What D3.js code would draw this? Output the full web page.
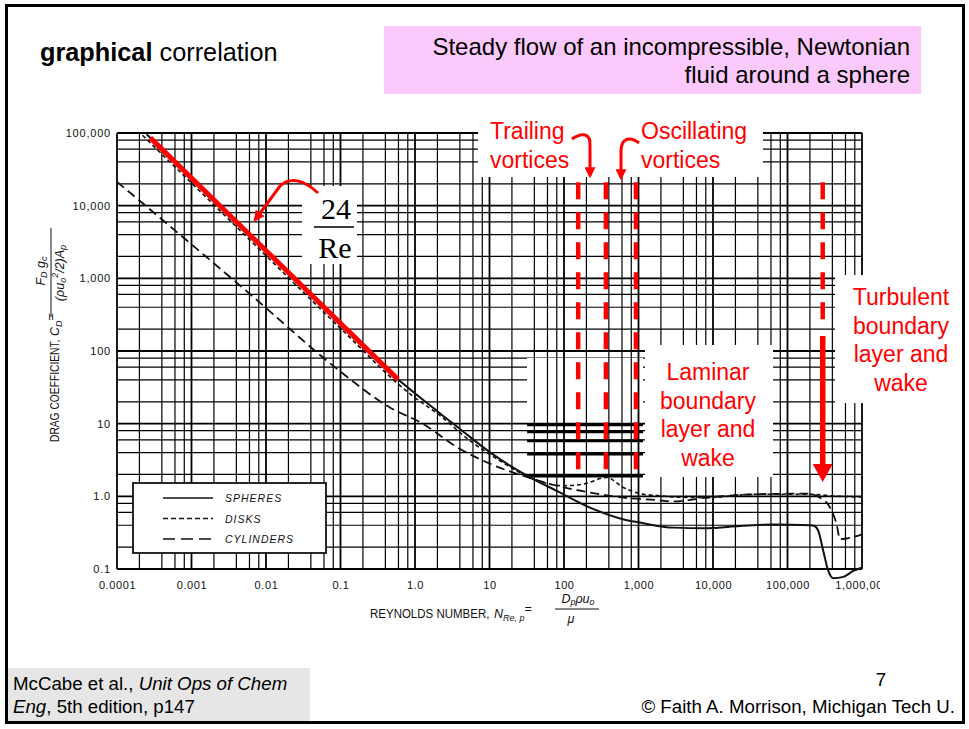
<!DOCTYPE html>
<html>
<head>
<meta charset="utf-8">
<script src="https://cdn.jsdelivr.net/npm/d3@7"></script>
<style>
body { margin: 0; background: #fff; }
svg { display: block; }
</style>
</head>
<body>
<svg id="chart" width="969" height="729"></svg>
<script>
// Drag coefficient vs Reynolds number
var sphereRe = [0.00025, 0.001, 0.01, 0.1, 0.486, 1.95, 4.02, 10.2, 18.8, 38.7, 79.8, 223, 695, 1047, 2930, 8220, 23000, 64400, 200000, 230000, 259000, 302000, 353000, 412000, 561000, 764000, 1000000];
var sphereCd = [96000, 24000, 2400, 240, 48.5, 15.1, 8.45, 4.02, 2.64, 1.73, 1.19, 0.70, 0.47, 0.435, 0.371, 0.365, 0.39, 0.41, 0.40, 0.39, 0.334, 0.177, 0.094, 0.0745, 0.078, 0.094, 0.105];

var diskRe = [0.00022, 0.001, 0.01, 0.1, 0.857, 2.17, 5.47, 13.8, 38.7, 97.9, 181, 374, 625, 1160, 1945, 2930, 8220, 38600, 181000, 500000, 1000000];
var diskCd = [93000, 20500, 2050, 205, 25.7, 12.9, 5.83, 3.09, 1.73, 1.40, 1.47, 1.82, 1.32, 1.07, 1.02, 0.98, 0.96, 1.07, 1.07, 1.0, 0.98];

var cylRe = [0.0001, 0.00086, 0.0068, 0.084, 0.46, 1.29, 3.6, 10.2, 28, 80, 223, 625, 1750, 2930, 8200, 38600, 181000, 273000, 372000, 457000, 507000, 1000000];
var cylCd = [21300, 3340, 552, 60, 16.7, 9.9, 4.8, 2.8, 1.92, 1.40, 1.13, 0.96, 0.89, 0.85, 0.96, 1.07, 1.09, 0.96, 0.70, 0.41, 0.257, 0.30];

// the red 24/Re line drawn over the Stokes region
var stokesRe = [0.00028, 0.59];
var stokesCd = [85700, 40.7];

// red regime markers
var vortexRe = [155, 365, 925];
var turbulentRe = 297000;
var regimeTopCd = 21000, regimeBottomCd = 2.3;
var turbSolidCd = 161, turbTipCd = 1.58;

var xTickValues = [1e-4, 1e-3, 1e-2, 1e-1, 1, 10, 100, 1e3, 1e4, 1e5, 1e6];
var xTickLabels = ["0.0001", "0.001", "0.01", "0.1", "1.0", "10", "100", "1,000", "10,000", "100,000", "1,000,000"];
var yTickValues = [0.1, 1, 10, 100, 1e3, 1e4, 1e5];
var yTickLabels = ["0.1", "1.0", "10", "100", "1,000", "10,000", "100,000"];

var legendLabels = ["SPHERES", "DISKS", "CYLINDERS"];
var gridMult = [1, 2, 4, 6, 8];
var patchCd = [9.6, 7.7, 5.8, 3.8, 1.9];

var svg = d3.select("#chart");
var x = d3.scaleLog().domain([1e-4, 1e6]).range([117, 862]);
var y = d3.scaleLog().domain([0.1, 1e5]).range([569, 133]);

var RED = "#ff0000";
var SANS = "'Liberation Sans', Arial, sans-serif";

var defs = svg.append("defs");
defs.append("clipPath").attr("id", "xclip")
    .append("rect").attr("x", 0).attr("y", -20).attr("width", 880).attr("height", 60);
defs.append("marker")
    .attr("id", "redhead")
    .attr("viewBox", "0 0 10 10")
    .attr("refX", 8).attr("refY", 5)
    .attr("markerUnits", "userSpaceOnUse")
    .attr("markerWidth", 11).attr("markerHeight", 11)
    .attr("orient", "auto")
    .append("path").attr("d", "M0,0 L10,5 L0,10 z").attr("fill", RED);

// ---- log grid of the scanned chart paper
var xGrid = [], yGrid = [];
for (var e = -4; e < 6; e++) gridMult.forEach(function (m) { xGrid.push(m * Math.pow(10, e)); });
xGrid.push(1e6);
for (var f = -1; f < 5; f++) gridMult.forEach(function (m) { yGrid.push(m * Math.pow(10, f)); });
yGrid.push(1e5);

function isDecade(v) { return Math.abs(Math.log10(v) - Math.round(Math.log10(v))) < 1e-6; }

var grid = svg.append("g").attr("stroke", "#000");
grid.selectAll("line.h").data(yGrid).enter().append("line")
    .attr("x1", x(1e-4)).attr("x2", x(1e6))
    .attr("y1", function (d) { return y(d); })
    .attr("y2", function (d) { return y(d); })
    .attr("stroke-width", function (d) { return isDecade(d) ? 1.8 : 1.2; });

// the slide author erased part of the horizontal rulings here
svg.append("rect").attr("x", 527).attr("y", 358).attr("width", 116).attr("height", 64).attr("fill", "#fff");

grid = svg.append("g").attr("stroke", "#000");
grid.selectAll("line.v").data(xGrid).enter().append("line")
    .attr("y1", y(1e5)).attr("y2", y(0.1))
    .attr("x1", function (d) { return x(d); })
    .attr("x2", function (d) { return x(d); })
    .attr("stroke-width", function (d) { return isDecade(d) ? 1.8 : 1.2; });

// redrawn heavy rulings
svg.append("g").selectAll("line").data(patchCd).enter().append("line")
    .attr("x1", x(32)).attr("x2", x(1150))
    .attr("y1", function (d) { return y(d); })
    .attr("y2", function (d) { return y(d); })
    .attr("stroke", "#000").attr("stroke-width", 2.6);

// white knock-outs behind the annotations
var blanks = [[302, 186, 55, 78], [478, 112, 285, 65], [645, 345, 128, 132], [835, 275, 125, 128]];
svg.append("g").selectAll("rect").data(blanks).enter().append("rect")
    .attr("x", function (d) { return d[0]; })
    .attr("y", function (d) { return d[1]; })
    .attr("width", function (d) { return d[2]; })
    .attr("height", function (d) { return d[3]; })
    .attr("fill", "#fff");

// ---- axes
var gx = svg.append("g")
    .attr("transform", "translate(0," + y(0.1) + ")")
    .attr("clip-path", "url(#xclip)")
    .call(d3.axisBottom(x).tickValues(xTickValues)
        .tickFormat(function (d, i) { return xTickLabels[i]; })
        .tickSize(0).tickPadding(12));
gx.select(".domain").remove();
gx.attr("font-family", SANS).attr("font-size", 11);
gx.selectAll("text").attr("fill", "#111").attr("letter-spacing", "0.6px");

var gy = svg.append("g")
    .attr("transform", "translate(" + x(1e-4) + ",0)")
    .call(d3.axisLeft(y).tickValues(yTickValues)
        .tickFormat(function (d, i) { return yTickLabels[i]; })
        .tickSize(0).tickPadding(6));
gy.select(".domain").remove();
gy.attr("font-family", SANS).attr("font-size", 11);
gy.selectAll("text").attr("fill", "#111").attr("letter-spacing", "0.8px");

// axis titles (the scan uses a narrow lettering, so squeeze horizontally)
svg.append("text")
    .attr("transform", "translate(370,618) scale(0.92,1)")
    .attr("font-family", SANS).attr("font-size", 12.5).attr("fill", "#111")
    .text("REYNOLDS  NUMBER,");
var xt = svg.append("text").attr("x", 494).attr("y", 618)
    .attr("font-family", SANS).attr("font-size", 12.5).attr("fill", "#111");
xt.append("tspan").attr("font-style", "italic").text("N");
xt.append("tspan").attr("font-style", "italic").attr("font-size", 9).attr("dy", 3).text("Re, p");
xt.append("tspan").attr("dy", -8).text("=");
svg.append("line").attr("x1", 555).attr("x2", 599).attr("y1", 609).attr("y2", 609)
    .attr("stroke", "#111").attr("stroke-width", 1);
var xn = svg.append("text").attr("x", 578).attr("y", 603).attr("text-anchor", "middle")
    .attr("font-family", SANS).attr("font-size", 12.5).attr("font-style", "italic").attr("fill", "#111");
xn.append("tspan").text("D");
xn.append("tspan").attr("font-size", 9).attr("dy", 2).text("p");
xn.append("tspan").attr("dy", -2).text("\u03c1u");
xn.append("tspan").attr("font-size", 9).attr("dy", 2).text("o");
svg.append("text").attr("x", 571).attr("y", 623).attr("text-anchor", "middle")
    .attr("font-family", SANS).attr("font-size", 12.5).attr("font-style", "italic").attr("fill", "#111")
    .text("\u03bc");

var yl = svg.append("g").attr("transform", "translate(59,442) rotate(-90)")
    .attr("font-family", SANS).attr("font-size", 12.5).attr("fill", "#111");
yl.append("text").attr("transform", "scale(0.82,1)")
    .text("DRAG  COEFFICIENT,");
var yt = yl.append("text").attr("x", 106).attr("y", 0);
yt.append("tspan").attr("font-style", "italic").text("C");
yt.append("tspan").attr("font-style", "italic").attr("font-size", 9).attr("dy", 3).text("D");
yt.append("tspan").attr("dy", -7).text("=");
yl.append("line").attr("x1", 125).attr("x2", 214).attr("y1", -8).attr("y2", -8)
    .attr("stroke", "#111").attr("stroke-width", 1);
var yn = yl.append("text").attr("x", 171).attr("y", -14).attr("text-anchor", "middle").attr("font-style", "italic");
yn.append("tspan").text("F");
yn.append("tspan").attr("font-size", 9).attr("dy", 2).text("D");
yn.append("tspan").attr("dy", -2).text(" g");
yn.append("tspan").attr("font-size", 9).attr("dy", 2).text("c");
var yd = yl.append("text").attr("x", 169).attr("y", 5).attr("text-anchor", "middle").attr("font-style", "italic");
yd.append("tspan").text("(\u03c1u");
yd.append("tspan").attr("font-size", 9).attr("dy", 2).text("o");
yd.append("tspan").attr("font-size", 9).attr("dy", -8).text("2");
yd.append("tspan").attr("dy", 6).text("/2)A");
yd.append("tspan").attr("font-size", 9).attr("dy", 2).text("p");

// ---- curves
var line = d3.line()
    .x(function (d) { return x(d[0]); })
    .y(function (d) { return y(d[1]); })
    .curve(d3.curveMonotoneX);

svg.append("path").datum(d3.zip(cylRe, cylCd)).attr("d", line)
    .attr("fill", "none").attr("stroke", "#111").attr("stroke-width", 1.8).attr("stroke-dasharray", "9,5");
svg.append("path").datum(d3.zip(diskRe, diskCd)).attr("d", line)
    .attr("fill", "none").attr("stroke", "#111").attr("stroke-width", 1.6).attr("stroke-dasharray", "4,3");
svg.append("path").datum(d3.zip(sphereRe, sphereCd)).attr("d", line)
    .attr("fill", "none").attr("stroke", "#111").attr("stroke-width", 2);

// legend
var legDash = ["none", "5,3", "12,6"];
var leg = svg.append("g");
leg.append("rect").attr("x", 133).attr("y", 483).attr("width", 193).attr("height", 70)
    .attr("fill", "#fff").attr("stroke", "#111").attr("stroke-width", 1.8);
leg.selectAll("line").data(legendLabels).enter().append("line")
    .attr("x1", 163).attr("x2", 213)
    .attr("y1", function (d, i) { return 498 + i * 20.5; })
    .attr("y2", function (d, i) { return 498 + i * 20.5; })
    .attr("stroke", "#111").attr("stroke-width", 1.6)
    .attr("stroke-dasharray", function (d, i) { return legDash[i]; });
leg.selectAll("text").data(legendLabels).enter().append("text")
    .attr("x", 225)
    .attr("y", function (d, i) { return 502 + i * 20.5; })
    .attr("font-family", SANS).attr("font-size", 10.5).attr("font-style", "italic")
    .attr("letter-spacing", "1px").attr("fill", "#111")
    .text(function (d) { return d; });

// ---- red annotations
svg.append("path").datum(d3.zip(stokesRe, stokesCd)).attr("d", d3.line()
        .x(function (d) { return x(d[0]); })
        .y(function (d) { return y(d[1]); }))
    .attr("stroke", RED).attr("stroke-width", 5).attr("fill", "none");

svg.append("g").selectAll("line").data(vortexRe).enter().append("line")
    .attr("x1", function (d) { return x(d); })
    .attr("x2", function (d) { return x(d); })
    .attr("y1", y(regimeTopCd)).attr("y2", y(regimeBottomCd))
    .attr("stroke", RED).attr("stroke-width", 4.5).attr("stroke-dasharray", "17,13");

svg.append("line")
    .attr("x1", x(turbulentRe)).attr("x2", x(turbulentRe))
    .attr("y1", y(regimeTopCd)).attr("y2", y(turbSolidCd) - 4)
    .attr("stroke", RED).attr("stroke-width", 4.5).attr("stroke-dasharray", "17,13");
svg.append("line")
    .attr("x1", x(turbulentRe)).attr("x2", x(turbulentRe))
    .attr("y1", y(turbSolidCd)).attr("y2", y(turbTipCd) - 12)
    .attr("stroke", RED).attr("stroke-width", 5.5);
svg.append("polygon")
    .attr("points", [[x(turbulentRe) - 10, y(turbTipCd) - 18], [x(turbulentRe) + 10, y(turbTipCd) - 18], [x(turbulentRe), y(turbTipCd)]].join(" "))
    .attr("fill", RED);

var hooks = ["M318,193 C304,180 290,176 280,186 L255,220",
             "M572,139 C582,132 591,133 590,146 L590,176",
             "M639,143 C630,136 621,138 621,151 L621,178"];
svg.append("g").selectAll("path").data(hooks).enter().append("path")
    .attr("d", function (d) { return d; })
    .attr("fill", "none").attr("stroke", RED).attr("stroke-width", 3)
    .attr("marker-end", "url(#redhead)");

// 24/Re label
svg.append("text").attr("x", 336).attr("y", 219).attr("text-anchor", "middle")
    .attr("font-family", "'Liberation Serif', 'Times New Roman', serif").attr("font-size", 30).text("24");
svg.append("line").attr("x1", 314).attr("x2", 354).attr("y1", 227).attr("y2", 227)
    .attr("stroke", "#000").attr("stroke-width", 1.5);
svg.append("text").attr("x", 335).attr("y", 258).attr("text-anchor", "middle")
    .attr("font-family", "'Liberation Serif', 'Times New Roman', serif").attr("font-size", 30).text("Re");

function redBlock(lines, xPos, yPos, anchor) {
    var t = svg.append("text").attr("font-family", SANS).attr("font-size", 23)
        .attr("fill", RED).attr("text-anchor", anchor);
    lines.forEach(function (s, i) {
        t.append("tspan").attr("x", xPos).attr("y", yPos + i * 28.6).text(s);
    });
}
redBlock(["Trailing", "vortices"], 490, 139, "start");
redBlock(["Oscillating", "vortices"], 641, 139, "start");
redBlock(["Laminar", "boundary", "layer and", "wake"], 708, 380, "middle");
redBlock(["Turbulent", "boundary", "layer and", "wake"], 901, 305, "middle");

// ---- slide furniture
svg.append("rect").attr("x", 384).attr("y", 26).attr("width", 537).attr("height", 68).attr("fill", "#fcc9fc");
var st = svg.append("text").attr("font-family", SANS).attr("font-size", 24).attr("text-anchor", "end").attr("fill", "#000");
st.append("tspan").attr("x", 910).attr("y", 55).text("Steady flow of an incompressible, Newtonian");
st.append("tspan").attr("x", 910).attr("y", 83).text("fluid around a sphere");

var gt = svg.append("text").attr("x", 40).attr("y", 61).attr("font-family", SANS).attr("font-size", 25.3).attr("fill", "#000");
gt.append("tspan").attr("font-weight", "bold").text("graphical");
gt.append("tspan").text(" correlation");

svg.append("rect").attr("x", 8).attr("y", 668).attr("width", 302).attr("height", 53).attr("fill", "#e6e6e6");
var ft = svg.append("text").attr("font-family", SANS).attr("font-size", 18.7).attr("fill", "#000");
var l1 = ft.append("tspan").attr("x", 13).attr("y", 690);
l1.append("tspan").text("McCabe et al., ");
l1.append("tspan").attr("font-style", "italic").text("Unit Ops of Chem");
var l2 = ft.append("tspan").attr("x", 13).attr("y", 713);
l2.append("tspan").attr("font-style", "italic").text("Eng");
l2.append("tspan").text(", 5th edition, p147");

svg.append("text").attr("x", 881).attr("y", 686).attr("text-anchor", "middle")
    .attr("font-family", SANS).attr("font-size", 18.7).text("7");
svg.append("text").attr("x", 955).attr("y", 713).attr("text-anchor", "end")
    .attr("font-family", SANS).attr("font-size", 18.7).text("\u00a9 Faith A. Morrison, Michigan Tech U.");

svg.append("rect").attr("x", 6.5).attr("y", 5.5).attr("width", 957).attr("height", 717)
    .attr("fill", "none").attr("stroke", "#000").attr("stroke-width", 3);
</script>
</body>
</html>
